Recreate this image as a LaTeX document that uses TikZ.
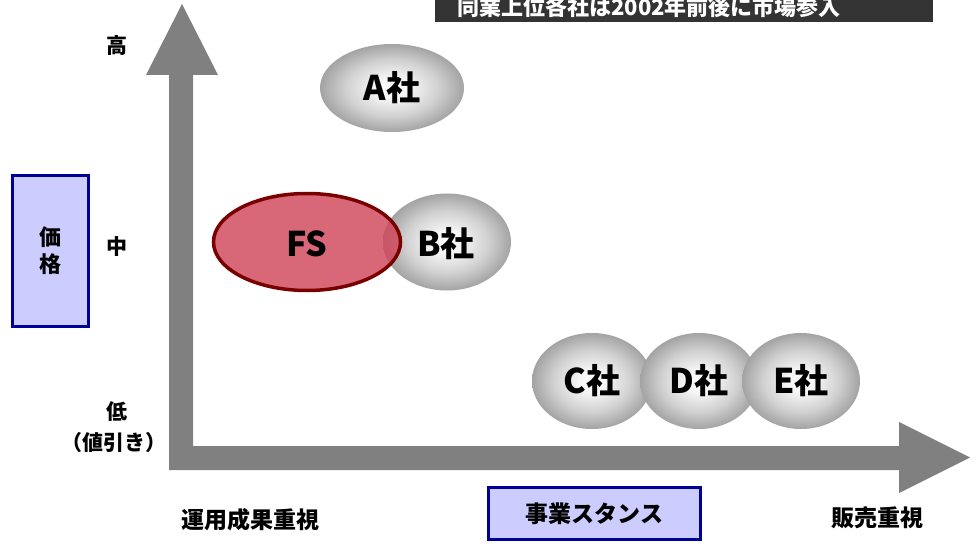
\documentclass[tikz,border=0pt]{standalone}
\usepackage{fontspec}
\usetikzlibrary{shapes.geometric}
\setmainfont{Noto Sans CJK JP}
\definecolor{axisgray}{HTML}{808080}
\definecolor{boxfill}{HTML}{CCCCFF}
\definecolor{boxline}{HTML}{000099}
\definecolor{fsline}{HTML}{7A0000}
\definecolor{fsfill}{HTML}{D0455A}
\definecolor{titlebg}{HTML}{333333}
\pgfdeclareradialshading{companyshade}{\pgfpoint{0bp}{0bp}}{color(0bp)=(white); color(6bp)=(white!96!black); color(16bp)=(white!82!black); color(25bp)=(white!64!black); color(50bp)=(white!58!black)}
\begin{document}
\begin{tikzpicture}[x=1pt,y=-1pt,
  company/.style={ellipse, inner sep=0pt, shading=companyshade, font=\bfseries\fontsize{34}{34}\selectfont},
  lbl/.style={font=\bfseries\fontsize{21}{24}\selectfont},
  bluebox/.style={draw=boxline, line width=2.5pt, fill=boxfill, inner sep=0pt, font=\bfseries\fontsize{23}{27}\selectfont}]
\useasboundingbox (0,0) rectangle (977,548);
% axes arrow
\fill[axisgray] (182,4) -- (218,75) -- (193,75) -- (193,446) -- (899,446) -- (899,422) -- (970,457.5) -- (899,493) -- (899,470) -- (169,470) -- (169,75) -- (146,75) -- cycle;
% title box
\node[fill=titlebg, minimum width=498pt, minimum height=32pt, inner sep=0pt] (title) at (684,6) {};
\node[text=white, font=\bfseries\fontsize{22}{22}\selectfont, anchor=center] (titletext) at (649,7) {同業上位各社は2002年前後に市場参入};
% companies
\node[company, minimum width=144pt, minimum height=88pt] (A) at (392,88) {A社};
\node[company, minimum width=128pt, minimum height=97pt] (B) at (447,242) {\phantom{B社}};
\node[ellipse, draw=fsline, line width=3.5pt, fill=fsfill, fill opacity=0.82, minimum width=187pt, minimum height=97pt, inner sep=0pt] (FS) at (307,242) {};
\node[font=\bfseries\fontsize{34}{34}\selectfont] (FStext) at (307,244) {FS};
\node[font=\bfseries\fontsize{34}{34}\selectfont] (Btext) at (446,244) {B社};
\node[company, minimum width=120pt, minimum height=96pt] (C) at (592,381) {C社};
\node[company, minimum width=118pt, minimum height=96pt] (D) at (699,381) {D社};
\node[company, minimum width=118pt, minimum height=96pt] (E) at (801,381) {E社};
% axis labels
\node[lbl] (high) at (117,46) {高};
\node[lbl] (mid) at (117,247) {中};
\node[lbl] (low) at (117,412) {低};
\node[lbl] (disc) at (114,443) {（値引き）};
\node[bluebox, minimum width=76pt, minimum height=151pt, align=center, font=\bfseries\fontsize{22}{27}\selectfont] (price) at (50.5,251) {価\\格};
\node[lbl, font=\bfseries\fontsize{23}{24}\selectfont] (left) at (250,520) {運用成果重視};
\node[bluebox, minimum width=212pt, minimum height=52pt] (stance) at (594.5,513.5) {事業スタンス};
\node[lbl, font=\bfseries\fontsize{23}{24}\selectfont] (right) at (877,518) {販売重視};
\end{tikzpicture}
\end{document}
